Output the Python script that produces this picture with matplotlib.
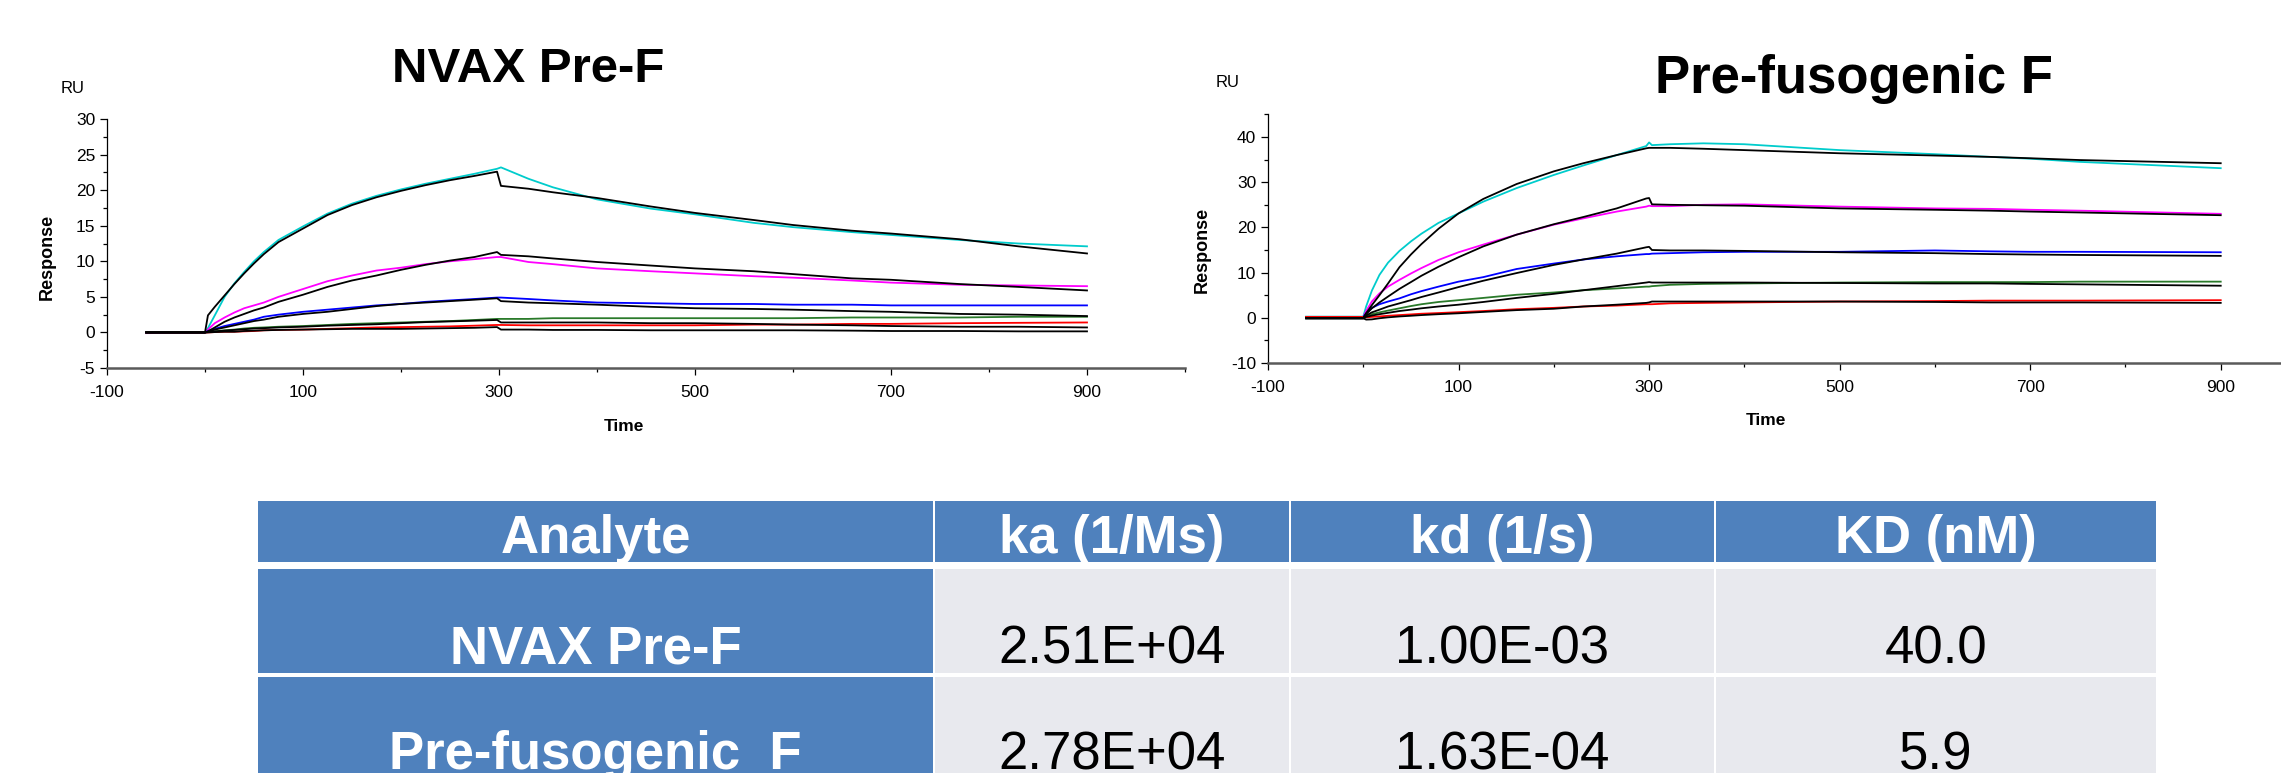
import matplotlib
matplotlib.use("Agg")
import matplotlib.pyplot as plt
from matplotlib.patches import Rectangle
from matplotlib.ticker import MultipleLocator

plt.rcParams['font.family'] = ['Liberation Sans', 'DejaVu Sans']
plt.rcParams['axes.unicode_minus'] = False

W, H = 2281, 773

# ---- sensorgram data (time in s, response in RU) ----
# left panel: NVAX Pre-F
t_left = [-60, 0, 3, 10, 20, 30, 40, 50, 60, 75, 100, 125, 150, 175, 200, 225, 250, 275, 298, 302,
          330, 355, 400, 455, 500, 560, 600, 660, 700, 770, 830, 900]

left_cyan = [0.0, 0.0, 0.6, 2.4, 5.0, 6.9, 8.5, 10.0, 11.3, 13.0, 14.9, 16.7, 18.1, 19.2, 20.1, 20.9,
             21.6, 22.3, 23.0, 23.2,
             21.6, 20.4, 18.7, 17.4, 16.6, 15.4, 14.8, 14.1, 13.7, 13.0, 12.5, 12.1]
left_cyan_fit = [0.0, 0.0, 2.4, 3.6, 5.2, 6.8, 8.3, 9.7, 11.0, 12.7, 14.6, 16.5, 17.9, 19.0, 19.9, 20.7,
                 21.4, 22.0, 22.6, 20.6,
                 20.2, 19.7, 18.9, 17.7, 16.8, 15.8, 15.1, 14.3, 13.9, 13.1, 12.1, 11.1]
left_magenta = [-0.1, -0.05, 0.4, 1.3, 2.1, 2.8, 3.4, 3.8, 4.2, 5.0, 6.1, 7.2, 8.0, 8.7, 9.1, 9.6,
                10.0, 10.3, 10.6, 10.6,
                9.9, 9.6, 9.0, 8.6, 8.3, 7.9, 7.7, 7.3, 7.0, 6.7, 6.6, 6.5]
left_magenta_fit = [0.0, 0.0, 0.15, 0.7, 1.5, 2.1, 2.6, 3.1, 3.5, 4.3, 5.3, 6.4, 7.3, 8.0, 8.8, 9.5,
                    10.1, 10.6, 11.3, 10.9,
                    10.7, 10.4, 9.9, 9.4, 9.0, 8.6, 8.2, 7.6, 7.4, 6.8, 6.4, 5.9]
left_blue = [0.0, 0.0, 0.2, 0.5, 0.9, 1.2, 1.5, 1.8, 2.2, 2.5, 2.9, 3.2, 3.5, 3.8, 4.0, 4.3,
             4.5, 4.7, 4.9, 4.9,
             4.7, 4.5, 4.2, 4.1, 4.0, 4.0, 3.9, 3.9, 3.8, 3.8, 3.8, 3.8]
left_blue_fit = [0.0, 0.0, 0.1, 0.4, 0.7, 1.0, 1.3, 1.6, 1.8, 2.2, 2.6, 2.9, 3.3, 3.7, 4.0, 4.2,
                 4.4, 4.6, 4.8, 4.4,
                 4.2, 4.1, 3.9, 3.6, 3.4, 3.3, 3.2, 3.0, 2.9, 2.6, 2.5, 2.3]
left_green = [0.0, 0.0, 0.05, 0.15, 0.3, 0.4, 0.55, 0.65, 0.7, 0.8, 0.9, 1.05, 1.2, 1.3, 1.4, 1.5,
              1.6, 1.75, 1.9, 1.9,
              1.9, 2.0, 2.0, 2.0, 2.0, 2.0, 2.0, 2.1, 2.1, 2.1, 2.2, 2.2]
left_green_fit = [0.0, 0.0, 0.05, 0.15, 0.25, 0.35, 0.45, 0.55, 0.6, 0.7, 0.8, 0.95, 1.05, 1.15, 1.3, 1.45,
                  1.55, 1.65, 1.75, 1.4,
                  1.4, 1.4, 1.4, 1.3, 1.3, 1.2, 1.1, 1.0, 0.9, 0.8, 0.8, 0.7]
left_red = [0.0, 0.0, 0.0, 0.05, 0.1, 0.1, 0.15, 0.2, 0.3, 0.35, 0.4, 0.5, 0.6, 0.7, 0.75, 0.8,
            0.85, 0.95, 1.05, 1.05,
            1.0, 1.0, 1.0, 1.0, 1.0, 1.1, 1.1, 1.2, 1.2, 1.3, 1.35, 1.4]
left_red_fit = [0.0, 0.0, 0.0, 0.05, 0.1, 0.1, 0.2, 0.25, 0.3, 0.35, 0.4, 0.45, 0.5, 0.5, 0.5, 0.55,
                0.6, 0.65, 0.75, 0.4,
                0.4, 0.35, 0.35, 0.3, 0.3, 0.3, 0.3, 0.25, 0.2, 0.2, 0.15, 0.15]

# right panel: Pre-fusogenic F
t_right = [-60, 0, 3, 9, 17, 26, 38, 50, 61, 79, 100, 126, 161, 200, 231, 266, 297, 300, 303,
           322, 357, 400, 500, 600, 658, 700, 752, 900]

right_cyan = [0.25, 0.25, 2.5, 6.0, 9.5, 12.2, 14.8, 16.9, 18.6, 21.0, 23.1, 25.7, 28.7, 31.6, 33.7, 36.0,
              38.0, 38.8, 38.2,
              38.4, 38.6, 38.4, 37.1, 36.2, 35.6, 35.2, 34.5, 33.1]
right_cyan_fit = [-0.1, -0.1, 1.0, 2.8, 5.0, 7.6, 11.2, 14.0, 16.3, 19.7, 23.1, 26.3, 29.6, 32.4, 34.2, 36.0,
                  37.5, 37.6, 37.6,
                  37.6, 37.4, 37.1, 36.4, 35.9, 35.6, 35.3, 34.9, 34.2]
right_magenta = [0.2, 0.2, 1.5, 3.6, 5.4, 6.9, 8.4, 9.8, 11.0, 12.8, 14.5, 16.2, 18.4, 20.6, 22.0, 23.5,
                 24.6, 24.8, 24.7,
                 24.7, 25.0, 25.1, 24.6, 24.2, 24.1, 23.9, 23.7, 23.0]
right_magenta_fit = [-0.1, -0.1, 0.8, 2.1, 3.4, 4.7, 6.4, 7.9, 9.3, 11.3, 13.4, 15.8, 18.4, 20.7, 22.3, 24.2,
                     26.4, 26.5, 25.1,
                     25.0, 24.9, 24.8, 24.2, 23.9, 23.7, 23.5, 23.3, 22.7]
right_blue = [0.2, 0.2, 1.0, 2.2, 3.0, 3.6, 4.3, 5.2, 5.9, 6.9, 8.0, 9.0, 10.8, 12.0, 12.9, 13.6,
              14.1, 14.1, 14.2,
              14.3, 14.5, 14.6, 14.6, 14.9, 14.7, 14.6, 14.6, 14.5]
right_blue_fit = [-0.1, -0.1, 0.5, 1.2, 1.8, 2.5, 3.2, 3.9, 4.6, 5.6, 6.8, 8.2, 9.9, 11.7, 12.9, 14.2,
                  15.6, 15.7, 15.0,
                  14.9, 14.9, 14.8, 14.5, 14.3, 14.1, 14.0, 13.9, 13.7]
right_green = [0.2, 0.2, 0.4, 0.8, 1.2, 1.6, 2.1, 2.6, 3.0, 3.5, 3.9, 4.4, 5.1, 5.6, 6.1, 6.5,
               6.9, 6.9, 7.0,
               7.3, 7.5, 7.6, 7.8, 7.9, 7.9, 7.9, 8.0, 8.0]
right_green_fit = [-0.1, -0.1, 0.2, 0.5, 0.8, 1.1, 1.5, 1.8, 2.1, 2.5, 2.9, 3.5, 4.4, 5.3, 6.1, 7.0,
                   7.8, 7.9, 7.8,
                   7.8, 7.8, 7.8, 7.7, 7.6, 7.6, 7.5, 7.4, 7.1]
right_red = [0.2, 0.2, 0.1, 0.2, 0.3, 0.45, 0.6, 0.75, 0.9, 1.05, 1.25, 1.5, 1.9, 2.2, 2.5, 2.7,
             3.0, 3.0, 3.0,
             3.2, 3.3, 3.4, 3.6, 3.7, 3.8, 3.8, 3.8, 3.9]
right_red_fit = [-0.1, -0.1, -0.4, -0.35, -0.1, 0.1, 0.3, 0.45, 0.6, 0.8, 1.0, 1.3, 1.7, 2.0, 2.5, 2.9,
                 3.3, 3.4, 3.6,
                 3.6, 3.6, 3.6, 3.6, 3.5, 3.4, 3.4, 3.4, 3.3]

# ---- kinetics table ----
table_header = ['Analyte', 'ka (1/Ms)', 'kd (1/s)', 'KD (nM)']
analytes = ['NVAX Pre-F', 'Pre-fusogenic  F']
ka_vals = ['2.51E+04', '2.78E+04']
kd_vals = ['1.00E-03', '1.63E-04']
KD_vals = ['40.0', '5.9']

curve_colors = ['#00CCCC', '#FF00FF', '#0000FF', '#2A7A2A', '#FF0000']
HEAD_BLUE = '#4F81BD'
CELL_GREY = '#E8E9EE'


def draw_sensorgram(ax, t, observed, fitted, ylim, ystep, yminor):
    for y, c in zip(observed, curve_colors):
        ax.plot(t, y, color=c, lw=1.3, zorder=2)
    for y in fitted:
        ax.plot(t, y, color='black', lw=1.3, zorder=3)
    ax.set_xlim(-100, 1000)
    ax.set_xticks([-100, 100, 300, 500, 700, 900])
    ax.set_xticks([0, 200, 400, 600, 800, 1000], minor=True)
    ax.yaxis.set_major_locator(MultipleLocator(ystep))
    ax.yaxis.set_minor_locator(MultipleLocator(yminor))
    ax.set_ylim(*ylim)
    for s in ['top', 'right']:
        ax.spines[s].set_visible(False)
    ax.spines['bottom'].set_color('#5a5a5a')
    ax.spines['bottom'].set_linewidth(1.8)
    ax.spines['left'].set_color('black')
    ax.spines['left'].set_linewidth(0.9)
    ax.tick_params(which='major', labelsize=12.5, length=5, width=0.9, direction='out')
    ax.tick_params(axis='x', which='major', pad=7)
    ax.tick_params(which='minor', length=3, width=0.9, direction='out')
    ax.patch.set_alpha(0)


fig = plt.figure(figsize=(W / 100, H / 100), dpi=100)

# full-figure overlay in pixel units for titles, labels and the table
bg = fig.add_axes([0, 0, 1, 1])
bg.set_xlim(0, W)
bg.set_ylim(H, 0)
bg.axis('off')

ax1 = fig.add_axes([107 / W, 1 - 368 / H, 1078 / W, 249 / H])
draw_sensorgram(ax1, t_left,
                [left_cyan, left_magenta, left_blue, left_green, left_red],
                [left_cyan_fit, left_magenta_fit, left_blue_fit, left_green_fit, left_red_fit],
                (-5, 30), 5, 2.5)

ax2 = fig.add_axes([1268 / W, 1 - 363 / H, 1048 / W, 248.6 / H])
draw_sensorgram(ax2, t_right,
                [right_cyan, right_magenta, right_blue, right_green, right_red],
                [right_cyan_fit, right_magenta_fit, right_blue_fit, right_green_fit, right_red_fit],
                (-10, 45), 10, 5)

# panel titles and axis labels
bg.text(528, 82, 'NVAX Pre-F', fontsize=35.5, fontweight='bold', ha='center', va='baseline')
bg.text(1854, 93, 'Pre-fusogenic F', fontsize=38, fontweight='bold', ha='center', va='baseline')
for x, y in [(73, 93), (1228, 87)]:
    bg.text(x, y, 'RU', fontsize=12, ha='center', va='baseline')
for x, y in [(47, 257), (1202, 250)]:
    bg.text(x, y, 'Response', fontsize=13, fontweight='bold', rotation=90, ha='center', va='center')
for x, y in [(624, 431), (1766, 425)]:
    bg.text(x, y, 'Time', fontsize=12.5, fontweight='bold', ha='center', va='baseline')

# table
col_edges = [257, 934, 1290, 1715, 2157]
row_spans = [(501, 562), (569, 673), (677, 800)]
baselines = [553, 663, 769]
rows = [table_header] + [[a, k1, k2, k3] for a, k1, k2, k3 in zip(analytes, ka_vals, kd_vals, KD_vals)]

for r, (y0, y1) in enumerate(row_spans):
    for c in range(4):
        x0, x1 = col_edges[c], col_edges[c + 1]
        blue = r == 0 or c == 0
        bg.add_patch(Rectangle((x0 + 1, y0), x1 - x0 - 2, y1 - y0,
                               facecolor=HEAD_BLUE if blue else CELL_GREY, edgecolor='none'))
        bg.text((x0 + x1) / 2, baselines[r], rows[r][c], fontsize=38,
                fontweight='bold' if blue else 'normal',
                color='white' if blue else 'black', ha='center', va='baseline')

fig.savefig('out.png', dpi=100)
